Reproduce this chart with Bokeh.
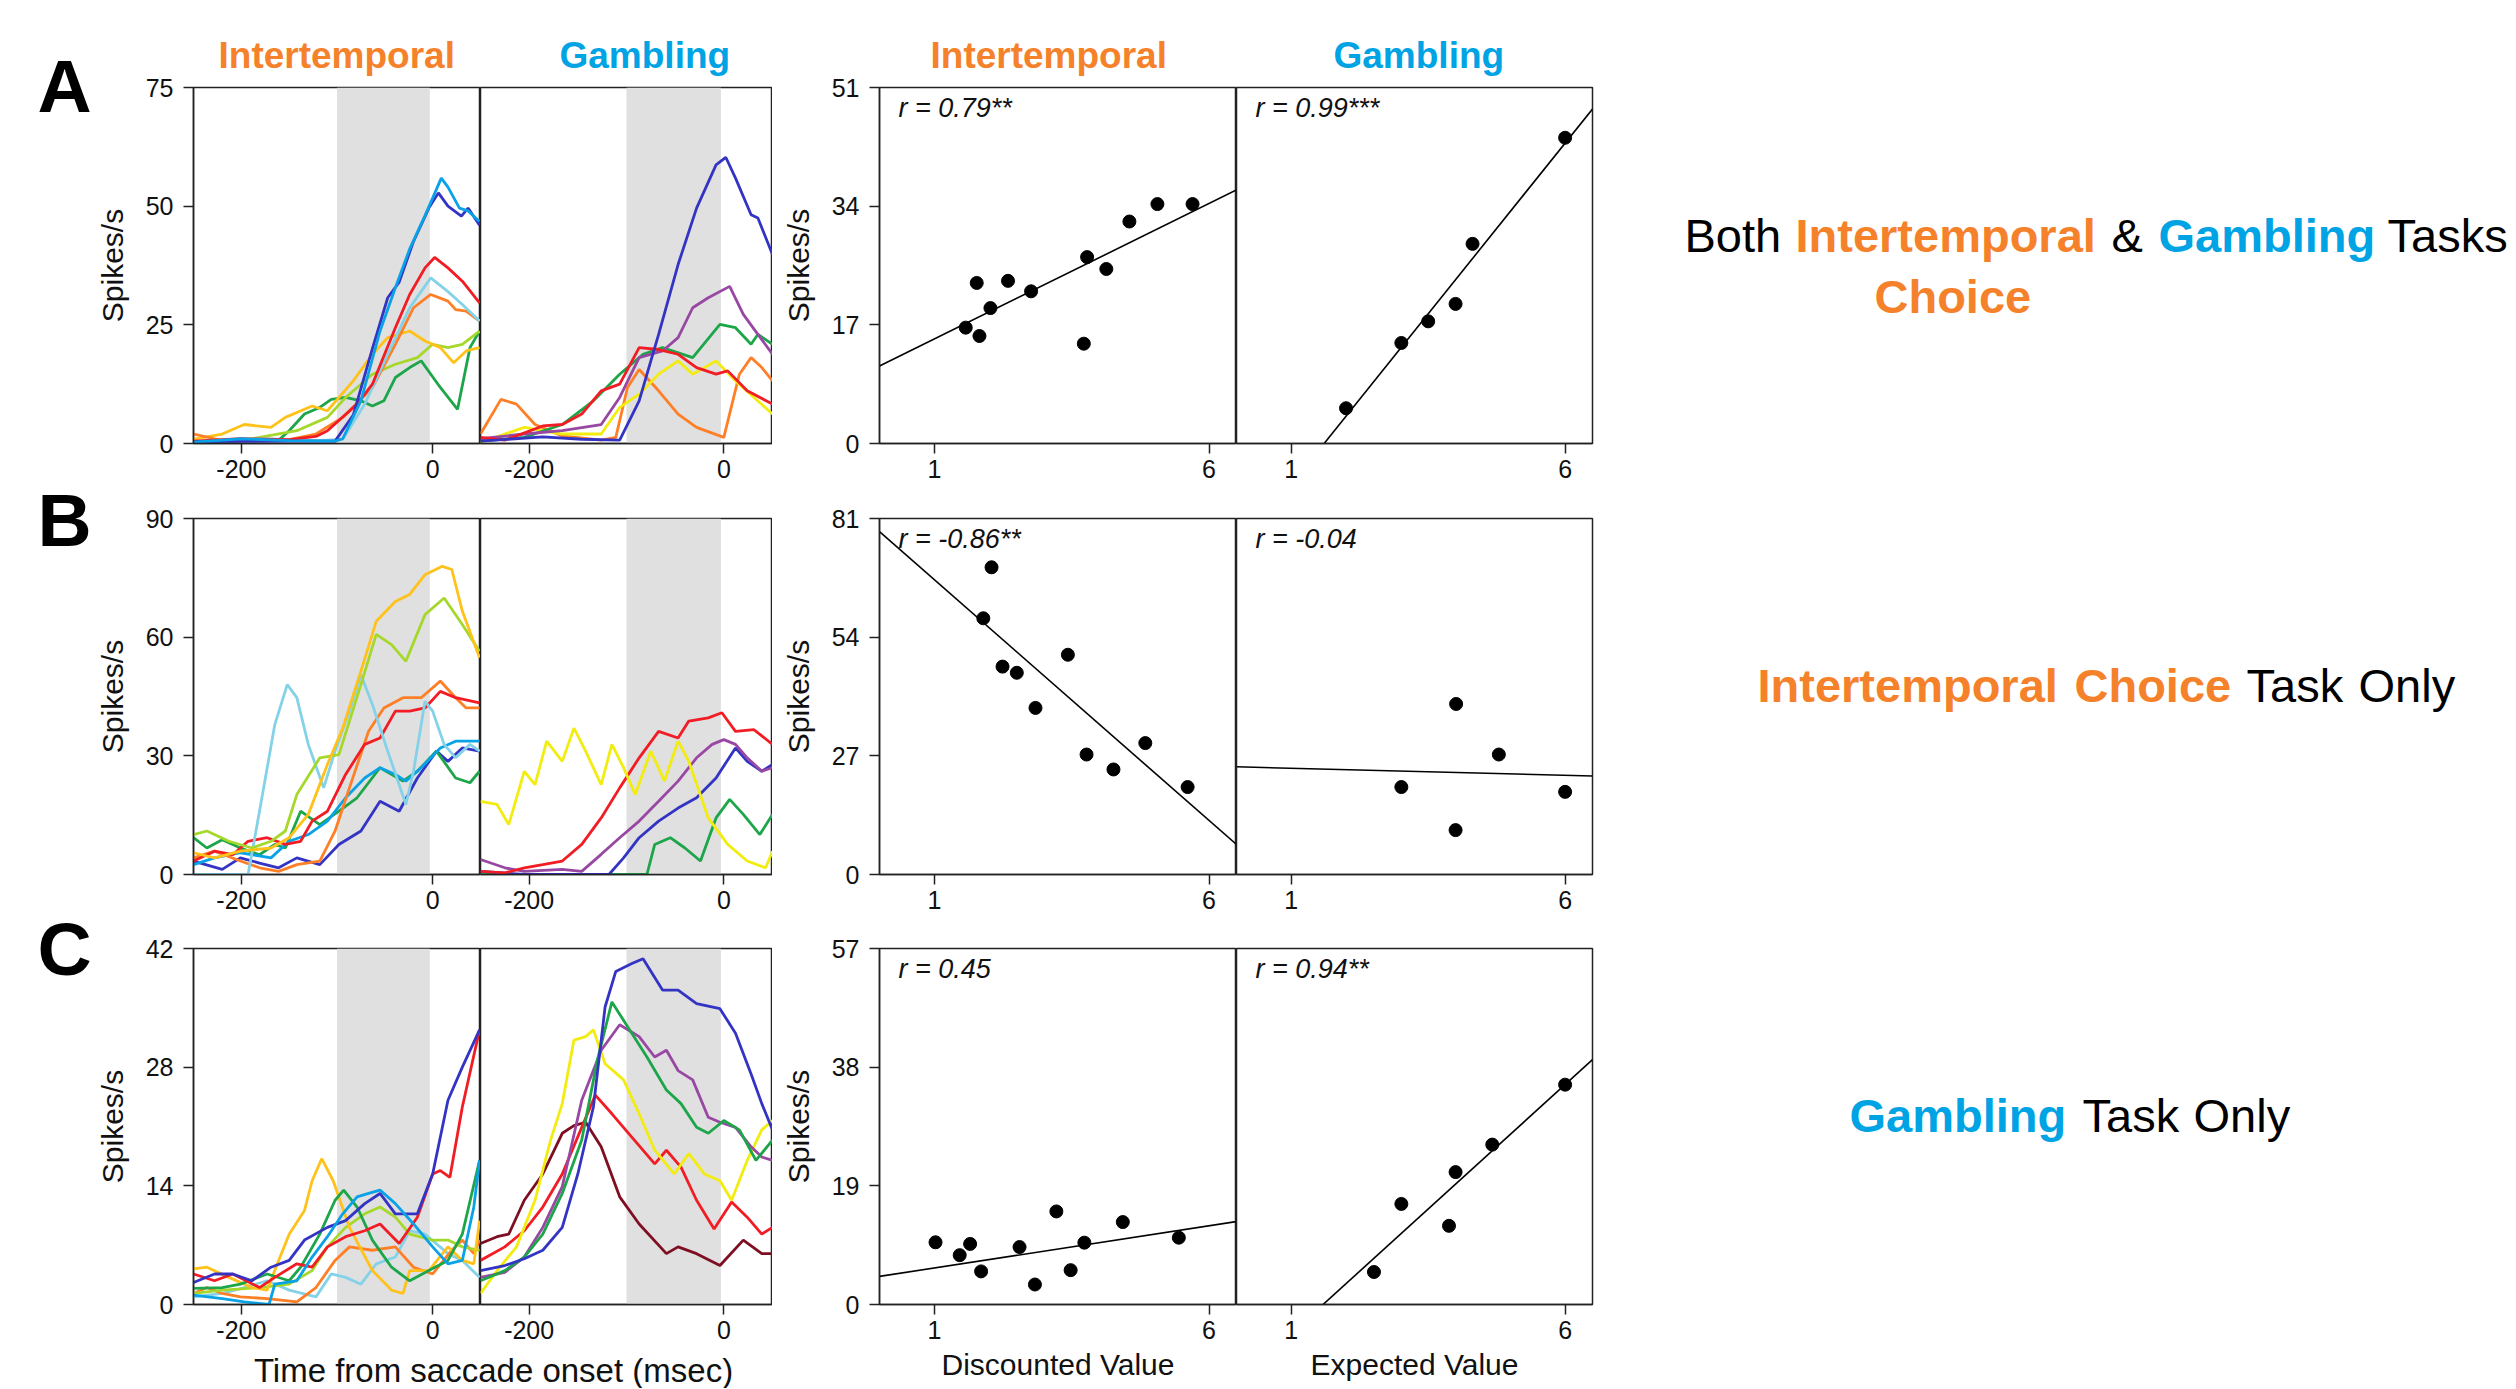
from bokeh.plotting import figure
from bokeh.models import Range1d, FixedTicker, Label, BoxAnnotation
from bokeh.layouts import row, column
from bokeh.embed import file_html
from bokeh.resources import INLINE

FONT = "Liberation Sans"
ORANGE = "#F5822A"
BLUE = "#00A3E3"
COL = {"darkblue": "#3434C4", "skyblue": "#0AA2E6", "red": "#F21C24", "lightcyan": "#84D2E8",
       "orange": "#FF7F27", "gold": "#FFC21A", "yellowgreen": "#A6D82C", "green": "#1DA54A",
       "yellow": "#F2EC10", "purple": "#9848A3", "maroon": "#7E0F22"}

# ---------------- time-course data (time ms, spikes/s) ----------------
TIME_RANGE = [-250, 50]
GRAY_BAND = [-100, -3]
TIME_TICKS = [-200, 0]

# Row A - intertemporal
a_int_green = [(-250,0.2),(-160,0.9),(-150,2.7),(-134,6.2),(-118,7.6),(-106,9.3),(-91,9.7),(-75,9.0),(-63,7.9),(-51,9.0),(-39,13.9),(-24,16),(-12,17.4),(8,11.8),(26,7.2),(39,20.2),(49,23.7)]
a_int_yellowgreen = [(-250,0.3),(-200,0.6),(-181,1.3),(-142,2.7),(-110,5.5),(-91,9.7),(-63,14.6),(-39,16.7),(-16,18.1),(0,20.9),(16,20.2),(31,20.9),(49,23.7)]
a_int_gold = [(-250,0.9),(-220,2),(-197,4),(-169,3.4),(-154,5.5),(-126,7.9),(-110,6.9),(-83,13.2),(-63,18.8),(-47,22.3),(-24,23.7),(-8,21.6),(8,20.2),(22,17),(35,19.5),(49,20.2)]
a_int_orange = [(-250,2),(-220,0.6),(-150,0.8),(-122,2),(-94,5.5),(-63,11.8),(-39,20.9),(-20,28.6),(-2,31.4),(16,30),(24,28.2),(35,27.9),(49,25.8)]
a_int_lightcyan = [(-250,0.2),(-180,1.0),(-120,0.6),(-94,0.9),(-71,8.3),(-47,18.8),(-24,28.6),(-2,34.9),(16,32),(31,29.3),(49,25.8)]
a_int_red = [(-250,0.5),(-200,1),(-150,0.8),(-122,1.5),(-110,2.7),(-79,8.3),(-63,12.5),(-39,24.4),(-24,31.4),(-8,37),(2,39.2),(16,37),(31,34.2),(49,29.6)]
a_int_darkblue = [(-250,0.4),(-150,0.5),(-102,0.5),(-83,6),(-63,20),(-47,30.7),(-35,34),(-20,42.6),(-4,49.6),(6,52.8),(16,50),(30,47.9),(37,49.6),(49,46)]
a_int_skyblue = [(-250,0.3),(-200,1.0),(-150,0.6),(-102,0.5),(-94,1),(-75,9),(-55,23.7),(-39,32.8),(-24,41),(-8,48),(9,55.9),(16,54),(28,49.6),(37,49),(49,46.8)]

# Row A - gambling
a_gam_orange = [(-250,2),(-229,9.3),(-213,8.3),(-194,4),(-166,1.6),(-126,0.7),(-111,1.3),(-99,11.8),(-87,15.6),(-67,11.1),(-47,6.2),(-28,3.4),(0,1.3),(16,14.6),(28,18.1),(39,16),(50,13.2)]
a_gam_yellow = [(-250,0.2),(-205,3.4),(-166,2),(-126,2),(-107,7.6),(-87,10.4),(-67,14.6),(-47,17.4),(-32,14.6),(-8,17.4),(12,13.2),(31,9.7),(50,6.2)]
a_gam_green = [(-250,0.5),(-205,1.3),(-166,4),(-134,9),(-107,14.6),(-83,18.8),(-63,20.2),(-32,18.1),(-4,25.1),(12,24.4),(28,20.9),(35,23),(50,20.9)]
a_gam_purple = [(-250,1),(-205,2),(-166,2.7),(-126,4),(-107,9.7),(-87,18.1),(-63,19.5),(-47,22.3),(-32,28.6),(-16,30.7),(6,33.1),(20,27.2),(35,23),(50,18.8)]
a_gam_red = [(-250,1.3),(-225,0.7),(-186,3.7),(-166,4),(-146,6.2),(-126,11.1),(-107,12.5),(-87,20.2),(-67,19.8),(-47,18.8),(-28,16),(-8,14.6),(4,15.3),(24,11.1),(50,8.3)]
a_gam_darkblue = [(-250,0.5),(-186,1.4),(-146,0.9),(-107,0.7),(-87,9),(-67,23),(-47,37.7),(-28,49.6),(-8,58.7),(2,60.3),(12,55.9),(28,48.2),(35,47.5),(50,39.8)]

# Row B - intertemporal
b_int_darkblue = [(-250,3.4),(-220,1.3),(-201,4.2),(-181,2.9),(-161,1.7),(-142,4.2),(-118,2.5),(-98,7.6),(-75,11),(-55,18.5),(-35,16),(-16,24.4),(4,31.2),(16,28.6),(31,32),(49,31.2)]
b_int_green = [(-250,9.3),(-236,6.7),(-220,8.8),(-201,6.7),(-181,5),(-165,7.6),(-154,6.7),(-138,16),(-118,12.6),(-98,16),(-79,19.4),(-55,27),(-31,23.6),(-16,26.1),(4,31.2),(24,24.4),(39,23.2),(49,26.1)]
b_int_skyblue = [(-250,2.5),(-228,4.2),(-201,5.5),(-169,4.2),(-150,8.4),(-130,10.1),(-110,13.5),(-91,19.4),(-71,24.4),(-55,27),(-39,25.3),(-28,23.6),(-12,27),(8,32),(24,33.7),(49,33.7)]
b_int_orange = [(-250,4.2),(-228,5.9),(-201,3.4),(-181,1.7),(-161,0.8),(-142,2.5),(-118,3.4),(-102,11),(-87,21.9),(-67,36.2),(-51,42.1),(-31,44.7),(-12,44.7),(8,48.9),(24,44.7),(35,42.1),(49,42.1)]
b_int_red = [(-250,3.4),(-228,5.9),(-209,5),(-193,8.4),(-173,9.3),(-154,7.6),(-138,8.4),(-126,13.5),(-110,16),(-91,25.3),(-71,32.9),(-55,34.5),(-39,41.3),(-24,41.3),(-8,42.1),(8,46.3),(24,44.7),(49,43.4)]
b_int_lightcyan = [(-250,0),(-193,0),(-181,16),(-165,37.9),(-152,48),(-142,44.7),(-130,32.9),(-114,21.9),(-102,31.2),(-87,41.3),(-75,50.5),(-63,43),(-47,31.2),(-28,17.7),(-20,26.1),(-8,43.8),(0,41.3),(12,32.9),(24,29.5),(39,32.9),(49,31.2)]
b_int_yellowgreen = [(-250,10.1),(-236,11),(-213,8.4),(-189,6.7),(-169,8.4),(-154,11),(-142,20.2),(-118,29.5),(-98,30.3),(-75,48),(-59,60.7),(-43,58.1),(-28,53.9),(-8,65.7),(12,69.9),(31,63.2),(49,56.4)]
b_int_gold = [(-250,5.5),(-228,4.2),(-201,5.9),(-169,6.7),(-150,9.3),(-130,15.2),(-110,27.8),(-94,37),(-75,51.4),(-59,64),(-39,69),(-24,70.8),(-8,75.8),(10,77.9),(20,77.1),(31,66.6),(49,54.8)]

# Row B - gambling
b_gam_green = [(-250,0),(-79,0),(-71,7.6),(-55,9.3),(-40,6.7),(-24,3.4),(-8,14.3),(6,19),(20,15.2),(37,10.1),(50,15.2)]
b_gam_darkblue = [(-250,0.8),(-205,0),(-118,0),(-103,4.2),(-87,9.3),(-67,13.5),(-47,16.8),(-28,19.4),(-8,24.4),(12,32),(24,28.6),(39,26.1),(50,27.8)]
b_gam_purple = [(-250,3.8),(-225,1.7),(-205,0.8),(-166,1.3),(-146,0.8),(-126,5.1),(-107,9.3),(-87,13.5),(-67,18.5),(-47,23.6),(-28,29.5),(-12,32.9),(0,34.1),(12,32.9),(24,29.5),(39,26.1),(50,27)]
b_gam_red = [(-250,0.8),(-225,0.4),(-205,1.7),(-186,2.5),(-166,3.4),(-146,7.6),(-126,14.3),(-107,21.9),(-87,29.5),(-67,36.2),(-47,34.5),(-36,38.8),(-16,39.6),(-2,40.9),(12,36.2),(31,36.6),(50,32.9)]
b_gam_yellow = [(-250,18.5),(-233,17.7),(-221,12.6),(-205,26.1),(-194,22.7),(-182,33.7),(-166,28.6),(-154,37),(-142,31.2),(-126,22.7),(-115,32.9),(-103,27),(-91,20.2),(-75,31.2),(-61,23.6),(-47,33.7),(-36,28.6),(-16,14.3),(4,7.6),(24,3.4),(43,1.7),(50,5.9)]

# Row C - intertemporal
c_int_lightcyan = [(-250,0.9),(-220,1.3),(-197,2),(-173,2.8),(-150,1.7),(-122,0.9),(-106,3.6),(-91,3.2),(-75,2.4),(-59,4.8),(-39,5.6),(-24,8.7),(-8,8.3),(16,6),(31,5.2),(49,3.2)]
c_int_orange = [(-250,1.3),(-236,2),(-220,1.3),(-201,0.9),(-173,0.7),(-142,0.3),(-122,2),(-102,5.2),(-87,6.8),(-63,6.4),(-39,6.8),(-20,4.4),(0,3.6),(20,6.4),(31,7.6),(43,6),(49,7.6)]
c_int_yellowgreen = [(-250,1.3),(-220,1.7),(-181,2),(-150,2.4),(-126,4),(-110,6.8),(-91,9.1),(-71,10.7),(-55,11.5),(-39,10.3),(-24,8.3),(0,7.6),(16,7.6),(31,6.8),(49,6.4)]
c_int_gold = [(-250,4.2),(-236,4.4),(-213,3.2),(-189,2),(-173,1.7),(-161,5.2),(-150,8.3),(-134,11.1),(-126,14.6),(-116,17.2),(-104,14.6),(-87,9.1),(-63,4),(-43,1.7),(-31,1.3),(-24,4),(-4,4),(16,6.8),(31,5.2),(43,4.8),(49,9.9)]
c_int_green = [(-250,1.9),(-220,2),(-201,2.4),(-173,3.6),(-150,2.8),(-138,4.4),(-118,8.3),(-102,12.3),(-93,13.5),(-79,11.5),(-63,7.6),(-43,4.4),(-24,2.8),(-4,4),(16,5.2),(31,8.3),(49,17)]
c_int_red = [(-250,3.6),(-228,2.8),(-209,3.6),(-181,2),(-165,3.2),(-142,4.8),(-126,4.4),(-110,6.8),(-91,8),(-71,8.7),(-55,9.5),(-35,7.2),(-16,10.3),(0,15.4),(8,15.8),(18,15),(31,23.3),(49,32.4)]
c_int_darkblue = [(-250,2.6),(-228,3.6),(-209,3.6),(-189,2.8),(-169,4.4),(-150,5.2),(-134,7.6),(-110,9.1),(-91,9.9),(-71,11.9),(-55,13.1),(-39,10.7),(-16,10.7),(0,15.4),(16,24.1),(31,28),(49,32.4)]
c_int_skyblue = [(-250,1.1),(-220,0.7),(-197,0.3),(-171,0),(-165,2.4),(-142,2.8),(-126,5.6),(-110,8),(-94,10.7),(-79,12.7),(-67,13.1),(-55,13.5),(-39,11.9),(-20,9.5),(0,6.8),(16,4.8),(31,5.2),(43,11.5),(49,17)]

# Row C - gambling
c_gam_maroon = [(-250,7.2),(-233,8),(-221,8.3),(-205,12.3),(-186,15.4),(-166,20.2),(-154,21.1),(-142,21.5),(-126,18.6),(-107,12.7),(-87,9.5),(-59,6),(-47,6.8),(-28,6),(-4,4.6),(20,7.6),(39,6),(50,6)]
c_gam_red = [(-250,5.2),(-225,6.8),(-205,8.7),(-186,11.5),(-166,15.4),(-146,20.9),(-132,24.7),(-115,22.5),(-95,19.8),(-71,16.6),(-59,18.2),(-44,16.2),(-28,12.3),(-10,8.9),(8,12.1),(24,10.3),(39,8.3),(50,9.1)]
c_gam_yellow = [(-250,1.3),(-233,4),(-213,6.8),(-194,12.3),(-178,19.4),(-166,23.7),(-154,31.2),(-142,31.6),(-134,32.4),(-122,28.4),(-103,26.5),(-87,22.5),(-71,18.2),(-51,15.4),(-36,17.8),(-20,15.4),(-4,14.6),(8,12.3),(24,17),(39,20.6),(50,21.7)]
c_gam_purple = [(-250,3.2),(-225,3.8),(-205,5.6),(-186,9.1),(-166,13.9),(-146,24.1),(-126,30),(-107,33),(-87,31.6),(-71,29.2),(-59,30),(-47,27.6),(-32,26.5),(-16,22.1),(-4,21.5),(12,20.9),(28,18.6),(39,17.4),(50,17)]
c_gam_green = [(-250,2.8),(-225,4),(-205,5.6),(-186,8.3),(-166,13.1),(-146,19.4),(-130,28.8),(-115,35.7),(-99,32.8),(-79,29.2),(-59,25.3),(-44,23.7),(-28,20.9),(-16,20.2),(0,21.7),(16,20.6),(33,17),(50,19.4)]
c_gam_darkblue = [(-250,4),(-225,4.6),(-205,5.4),(-186,6.4),(-166,9.1),(-150,15.4),(-134,23.3),(-122,35.1),(-111,39.3),(-95,40.2),(-83,40.8),(-63,37.1),(-47,37.1),(-28,35.5),(-4,34.9),(12,32),(28,27.2),(39,23.7),(50,20.6)]

A_INT = [("green", a_int_green), ("yellowgreen", a_int_yellowgreen), ("gold", a_int_gold), ("orange", a_int_orange),
         ("lightcyan", a_int_lightcyan), ("red", a_int_red), ("darkblue", a_int_darkblue), ("skyblue", a_int_skyblue)]
A_GAM = [("orange", a_gam_orange), ("yellow", a_gam_yellow), ("green", a_gam_green), ("purple", a_gam_purple),
         ("red", a_gam_red), ("darkblue", a_gam_darkblue)]
B_INT = [("darkblue", b_int_darkblue), ("green", b_int_green), ("skyblue", b_int_skyblue), ("orange", b_int_orange),
         ("red", b_int_red), ("lightcyan", b_int_lightcyan), ("yellowgreen", b_int_yellowgreen), ("gold", b_int_gold)]
B_GAM = [("green", b_gam_green), ("darkblue", b_gam_darkblue), ("purple", b_gam_purple), ("red", b_gam_red),
         ("yellow", b_gam_yellow)]
C_INT = [("lightcyan", c_int_lightcyan), ("orange", c_int_orange), ("yellowgreen", c_int_yellowgreen), ("gold", c_int_gold),
         ("green", c_int_green), ("red", c_int_red), ("darkblue", c_int_darkblue), ("skyblue", c_int_skyblue)]
C_GAM = [("maroon", c_gam_maroon), ("red", c_gam_red), ("yellow", c_gam_yellow), ("purple", c_gam_purple),
         ("green", c_gam_green), ("darkblue", c_gam_darkblue)]

TIME_YMAX = {"A": 75, "B": 90, "C": 42}
TIME_YTICKS = {"A": [0, 25, 50, 75], "B": [0, 30, 60, 90], "C": [0, 14, 28, 42]}

# ---------------- scatter data (value, spikes/s) ----------------
VALUE_RANGE = [0, 6.5]
VALUE_TICKS = [1, 6]
a_disc_x = [1.57, 1.82, 1.77, 2.02, 2.34, 2.76, 3.72, 3.78, 4.13, 4.55, 5.06, 5.70]
a_disc_y = [16.6, 15.4, 23.0, 19.4, 23.3, 21.8, 14.3, 26.7, 25.0, 31.8, 34.3, 34.3]
a_ev_x = [2.0, 3.01, 3.5, 4.0, 4.31, 6.0]
a_ev_y = [5.05, 14.4, 17.5, 20.0, 28.6, 43.8]
b_disc_x = [2.04, 1.89, 2.24, 2.50, 3.43, 2.84, 3.77, 4.26, 4.84, 5.61]
b_disc_y = [69.9, 58.3, 47.3, 45.9, 50.0, 37.9, 27.3, 23.9, 29.9, 19.9]
b_ev_x = [3.01, 4.01, 4.0, 4.79, 6.0]
b_ev_y = [19.9, 38.8, 10.1, 27.3, 18.8]
c_disc_x = [1.02, 1.46, 1.65, 1.85, 2.55, 2.83, 3.22, 3.48, 3.73, 4.43, 5.45]
c_disc_y = [9.96, 7.9, 9.7, 5.3, 9.2, 3.2, 14.9, 5.5, 9.9, 13.2, 10.7]
c_ev_x = [2.51, 3.01, 3.88, 4.0, 4.67, 6.0]
c_ev_y = [5.2, 16.1, 12.6, 21.2, 25.6, 35.2]

# regression lines: (intercept, slope)
FIT = {"a_disc": (11.1, 3.88), "a_ev": (-15.65, 9.78), "b_disc": (78.0, -10.95),
       "b_ev": (24.5, -0.32), "c_disc": (4.5, 1.35), "c_ev": (-12.6, 7.97)}
R_TEXT = {"a_disc": "r = 0.79**", "a_ev": "r = 0.99***", "b_disc": "r = -0.86**",
          "b_ev": "r = -0.04", "c_disc": "r = 0.45", "c_ev": "r = 0.94**"}
SC_YMAX = {"A": 51, "B": 81, "C": 57}
SC_YTICKS = {"A": [0, 17, 34, 51], "B": [0, 27, 54, 81], "C": [0, 19, 38, 57]}

# ---------------- layout constants (pixels) ----------------
PAGE_H = 1388
LETTER_W = 92
FH = 356
TW = 292
T_LEFT = 96
S_LEFT = 107
S1W, S2W = 357, 356
TOP = {"A": 87, "B": 33, "C": 32}
BOT_T = {"A": 42, "B": 42, "C": 42}
BOT_S = {"A": 42, "B": 42, "C": 84}
LINE_C = "#222222"


def style(p):
    p.xgrid.visible = False
    p.ygrid.visible = False
    p.outline_line_color = LINE_C
    p.outline_line_width = 1.5
    p.background_fill_color = "white"
    p.border_fill_color = "white"
    for ax in p.axis:
        ax.axis_line_color = LINE_C
        ax.axis_line_width = 1.5
        ax.major_tick_line_color = LINE_C
        ax.major_tick_line_width = 1.5
        ax.major_tick_out = 10
        ax.major_tick_in = 0
        ax.minor_tick_line_color = None
        ax.major_label_text_font = FONT
        ax.major_label_text_font_size = "25px"
        ax.major_label_text_color = "#111111"
        ax.major_label_standoff = 6
        ax.axis_label_text_font = FONT
        ax.axis_label_text_font_size = "30px"
        ax.axis_label_text_font_style = "normal"
        ax.axis_label_text_color = "#111111"


def set_title(p, text, color, offset):
    # left-aligned title, offset = distance of text start from the frame's left edge
    p.title.text = text
    p.title.text_color = color
    p.title.text_font = FONT
    p.title.text_font_size = "37px"
    p.title.text_font_style = "bold"
    p.title.align = "left"
    p.title.offset = offset
    p.title.standoff = 23


def blank_fig(width, height, xr, yr):
    p = figure(width=width, height=height, x_range=Range1d(*xr), y_range=Range1d(*yr),
               output_backend="svg", toolbar_location=None, min_border=0,
               x_axis_location=None, y_axis_location=None)
    p.outline_line_color = None
    p.xgrid.visible = False
    p.ygrid.visible = False
    p.background_fill_color = "white"
    p.border_fill_color = "white"
    return p


def time_fig(rowkey, curves, left):
    ymax = TIME_YMAX[rowkey]
    p = figure(width=(T_LEFT + TW) if left else TW, height=TOP[rowkey] + FH + BOT_T[rowkey],
               x_range=Range1d(*TIME_RANGE), y_range=Range1d(0, ymax),
               output_backend="svg", toolbar_location=None,
               min_border_left=T_LEFT if left else 0, min_border_right=0,
               min_border_top=TOP[rowkey], min_border_bottom=BOT_T[rowkey],
               y_axis_location="left" if left else None)
    style(p)
    p.add_layout(BoxAnnotation(left=GRAY_BAND[0], right=GRAY_BAND[1], fill_color="#E0E0E0",
                               fill_alpha=1.0, line_color=None, level="underlay"))
    for cname, pts in curves:
        p.line([t for t, v in pts], [v for t, v in pts], line_color=COL[cname], line_width=2.8)
    p.xaxis.ticker = FixedTicker(ticks=TIME_TICKS)
    p.xaxis.major_label_overrides = {-200: "-200", 0: "0"}
    if left:
        p.yaxis.ticker = FixedTicker(ticks=TIME_YTICKS[rowkey])
        p.yaxis.major_label_standoff = 10
        p.yaxis.axis_label = "Spikes/s"
        p.yaxis.axis_label_standoff = 14
    return p


def scatter_fig(rowkey, key, xs, ys, left, xlabel=None):
    ymax = SC_YMAX[rowkey]
    fw = S1W if left else S2W
    p = figure(width=(S_LEFT + fw) if left else (fw + 2), height=TOP[rowkey] + FH + BOT_S[rowkey],
               x_range=Range1d(*VALUE_RANGE), y_range=Range1d(0, ymax),
               output_backend="svg", toolbar_location=None,
               min_border_left=S_LEFT if left else 0, min_border_right=0 if left else 2,
               min_border_top=TOP[rowkey], min_border_bottom=BOT_S[rowkey],
               y_axis_location="left" if left else None)
    style(p)
    b0, b1 = FIT[key]
    lx = VALUE_RANGE
    p.line(lx, [b0 + b1 * x for x in lx], line_color="black", line_width=1.6)
    p.scatter(xs, ys, size=13, fill_color="black", line_color="black")
    p.xaxis.ticker = FixedTicker(ticks=VALUE_TICKS)
    if left:
        p.yaxis.ticker = FixedTicker(ticks=SC_YTICKS[rowkey])
        p.yaxis.major_label_standoff = 10
        p.yaxis.axis_label = "Spikes/s"
        p.yaxis.axis_label_standoff = 14
    if xlabel:
        p.xaxis.axis_label = xlabel
        p.xaxis.axis_label_standoff = 6
    # r value, 19 px right of frame edge, centred 20 px below the frame top
    p.add_layout(Label(x=VALUE_RANGE[1] * 19 / fw, y=ymax * (1 - 20 / FH), text=R_TEXT[key],
                       text_font=FONT, text_font_size="27px", text_font_style="italic",
                       text_color="#111111", text_align="left", text_baseline="middle"))
    return p


# ---- Row A ----
tA1 = time_fig("A", A_INT, True)
tA2 = time_fig("A", A_GAM, False)
sA1 = scatter_fig("A", "a_disc", a_disc_x, a_disc_y, True)
sA2 = scatter_fig("A", "a_ev", a_ev_x, a_ev_y, False)
set_title(tA1, "Intertemporal", ORANGE, 25)
set_title(tA2, "Gambling", BLUE, 79)
set_title(sA1, "Intertemporal", ORANGE, 51)
set_title(sA2, "Gambling", BLUE, 97)

# ---- Row B ----
tB1 = time_fig("B", B_INT, True)
tB2 = time_fig("B", B_GAM, False)
sB1 = scatter_fig("B", "b_disc", b_disc_x, b_disc_y, True)
sB2 = scatter_fig("B", "b_ev", b_ev_x, b_ev_y, False)

# ---- Row C ----
tC1 = time_fig("C", C_INT, True)
tC2 = time_fig("C", C_GAM, False)
sC1 = scatter_fig("C", "c_disc", c_disc_x, c_disc_y, True, "Discounted Value")
sC2 = scatter_fig("C", "c_ev", c_ev_x, c_ev_y, False, "Expected Value")

# shared time-axis label under both time panels of row C (page coordinates)
lab_h = BOT_S["C"] - BOT_T["C"]
lab_x0 = LETTER_W
lab_w = T_LEFT + 2 * TW
lab = blank_fig(lab_w, lab_h, (lab_x0, lab_x0 + lab_w), (PAGE_H, PAGE_H - lab_h))
lab.add_layout(Label(x=493, y=1370, text="Time from saccade onset (msec)",
                     text_font=FONT, text_font_size="33px", text_color="#111111",
                     text_align="center", text_baseline="middle"))

# ---- panel letters (page coordinates) ----
letters = blank_fig(LETTER_W, PAGE_H, (0, LETTER_W), (PAGE_H, 0))
for txt, y in [("A", 85), ("B", 519), ("C", 948)]:
    letters.add_layout(Label(x=37, y=y, text=txt, text_font=FONT, text_font_size="75px",
                             text_font_style="bold", text_color="black", text_align="left",
                             text_baseline="middle"))

# ---- right-hand descriptive text (page coordinates) ----
x0 = LETTER_W + T_LEFT + 2 * TW + S_LEFT + S1W + S2W + 2
tf = blank_fig(2516 - x0, PAGE_H, (x0, 2516), (PAGE_H, 0))
TEXT_PIECES = [
    ("Both", 1684, 235, "black", "normal"), ("Intertemporal", 1795, 235, ORANGE, "bold"),
    ("&", 2111, 235, "black", "normal"), ("Gambling", 2158, 235, BLUE, "bold"),
    ("Tasks", 2387, 235, "black", "normal"), ("Choice", 1874, 296, ORANGE, "bold"),
    ("Intertemporal", 1757, 685, ORANGE, "bold"), ("Choice", 2074, 685, ORANGE, "bold"),
    ("Task", 2246, 685, "black", "normal"), ("Only", 2358, 685, "black", "normal"),
    ("Gambling", 1849, 1115, BLUE, "bold"), ("Task", 2082, 1115, "black", "normal"),
    ("Only", 2193, 1115, "black", "normal"),
]
for txt, x, y, c, st in TEXT_PIECES:
    tf.add_layout(Label(x=x, y=y, text=txt, text_font=FONT, text_font_size="47px",
                        text_font_style=st, text_color=c, text_align="left", text_baseline="middle"))

left_block = column(
    row(tA1, tA2, sA1, sA2),
    row(tB1, tB2, sB1, sB2),
    row(column(row(tC1, tC2), lab), sC1, sC2),
)
layout = row(letters, left_block, tf)

open("out.html", "w").write(file_html(layout, INLINE))
